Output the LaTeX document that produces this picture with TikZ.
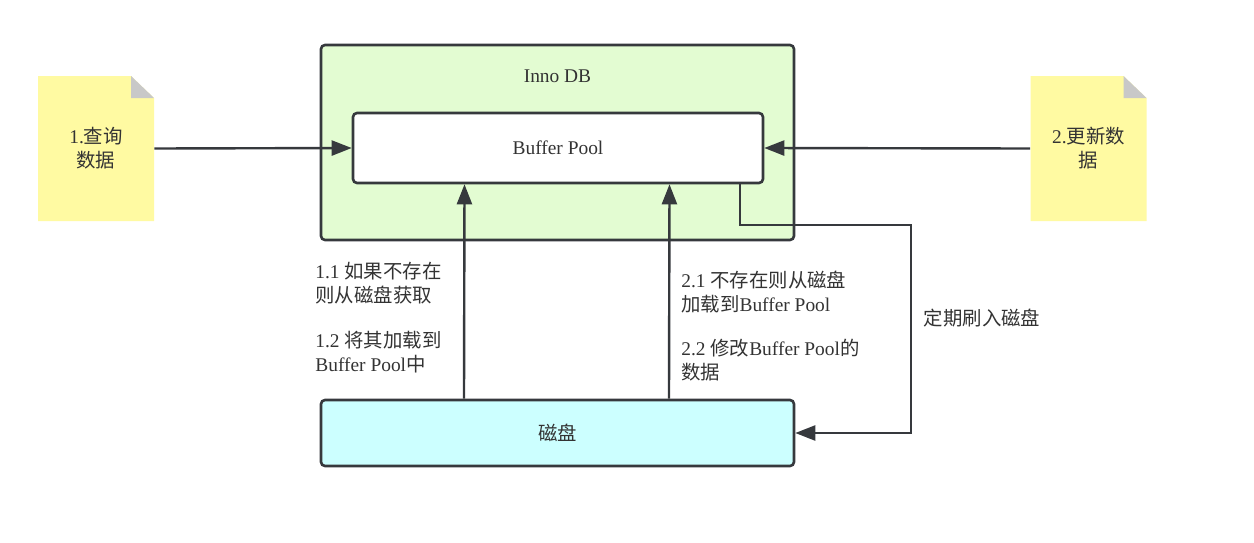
\documentclass[tikz,border=0pt]{standalone}
\usepackage{fontspec}
\setmainfont{Liberation Serif}
\newfontfamily\zh{Noto Sans CJK SC}
\usetikzlibrary{arrows.meta}

\definecolor{linegray}{HTML}{36393D}
\definecolor{txtgray}{HTML}{333333}
\definecolor{innogreen}{HTML}{E3FCD2}
\definecolor{diskcyan}{HTML}{CCFFFF}
\definecolor{noteyellow}{HTML}{FFFAA2}
\definecolor{foldgray}{HTML}{C8C8C8}

\tikzset{
    box/.style = {
        rectangle,
        rounded corners=2pt,
        align=center,
        draw=linegray,
        line width=1.3pt
    },
    note/.style = {
        rectangle,
        minimum width=58pt,
        minimum height=72.5pt,
        align=center,
        fill=white,
        path picture={
            \fill[noteyellow] (path picture bounding box.south west) -- (path picture bounding box.north west)
                -- ([xshift=-11.5pt]path picture bounding box.north east)
                -- ([yshift=-11pt]path picture bounding box.north east)
                -- (path picture bounding box.south east) -- cycle;
            \fill[foldgray] ([xshift=-11.5pt]path picture bounding box.north east)
                -- ([xshift=-11.5pt,yshift=-11pt]path picture bounding box.north east)
                -- ([yshift=-11pt]path picture bounding box.north east) -- cycle;
        }
    },
    steplabel/.style = {
        inner sep=0pt,
        anchor=west,
        align=left
    },
    arrow/.style = {
        draw=linegray,
        line width=1.2pt,
        -{Triangle[length=10pt,width=7.5pt]}
    }
}

\begin{document}
\begin{tikzpicture}[x=0.5pt, y=-0.5pt, every node/.style={font=\fontsize{9.7}{12}\selectfont, text=txtgray}]

\useasboundingbox (0,0) rectangle (1254,542);

\node (innodb) [box, fill=innogreen, minimum width=236.5pt, minimum height=97.5pt] at (557.5,142.5) {};
\node (innolbl) at (557.5,76) {Inno DB};
\node (buf) [box, fill=white, minimum width=205pt, minimum height=35pt] at (558,148) {Buffer Pool};
\node (disk) [box, fill=diskcyan, minimum width=236.5pt, minimum height=33pt] at (557.5,433) {{\zh 磁盘}};

\node (qnote) [note] at (96,148.5) {1.{\zh 查询}\\{\zh 数据}};
\node (unote) [note] at (1088.5,148.5) {2.{\zh 更新数}\\{\zh 据}};

\node (l11) [steplabel] at (315,283) {1.1 {\zh 如果不存在}\\{\zh 则从磁盘获取}};
\node (l12) [steplabel] at (315,352.5) {1.2 {\zh 将其加载到}\\Buffer Pool{\zh 中}};
\node (l21) [steplabel] at (681,292) {2.1 {\zh 不存在则从磁盘}\\{\zh 加载到}Buffer Pool};
\node (l22) [steplabel] at (681,360) {2.2 {\zh 修改}Buffer Pool{\zh 的}\\{\zh 数据}};
\node (flushlbl) at (982,318) {{\zh 定期刷入磁盘}};

\coordinate (flushturn) at (911,225);

% Arrows
\draw [arrow] (qnote.east) -- (buf.west);
\draw [arrow] (unote.west) -- (buf.east);
\draw [arrow] ([xshift=-46.75pt]disk.north) -- ([xshift=-46.75pt]buf.south);
\draw [arrow] ([xshift=55.75pt]disk.north) -- ([xshift=55.75pt]buf.south);
\draw [arrow] ([xshift=91pt]buf.south) |- (flushturn) |- (disk.east);

\end{tikzpicture}
\end{document}
